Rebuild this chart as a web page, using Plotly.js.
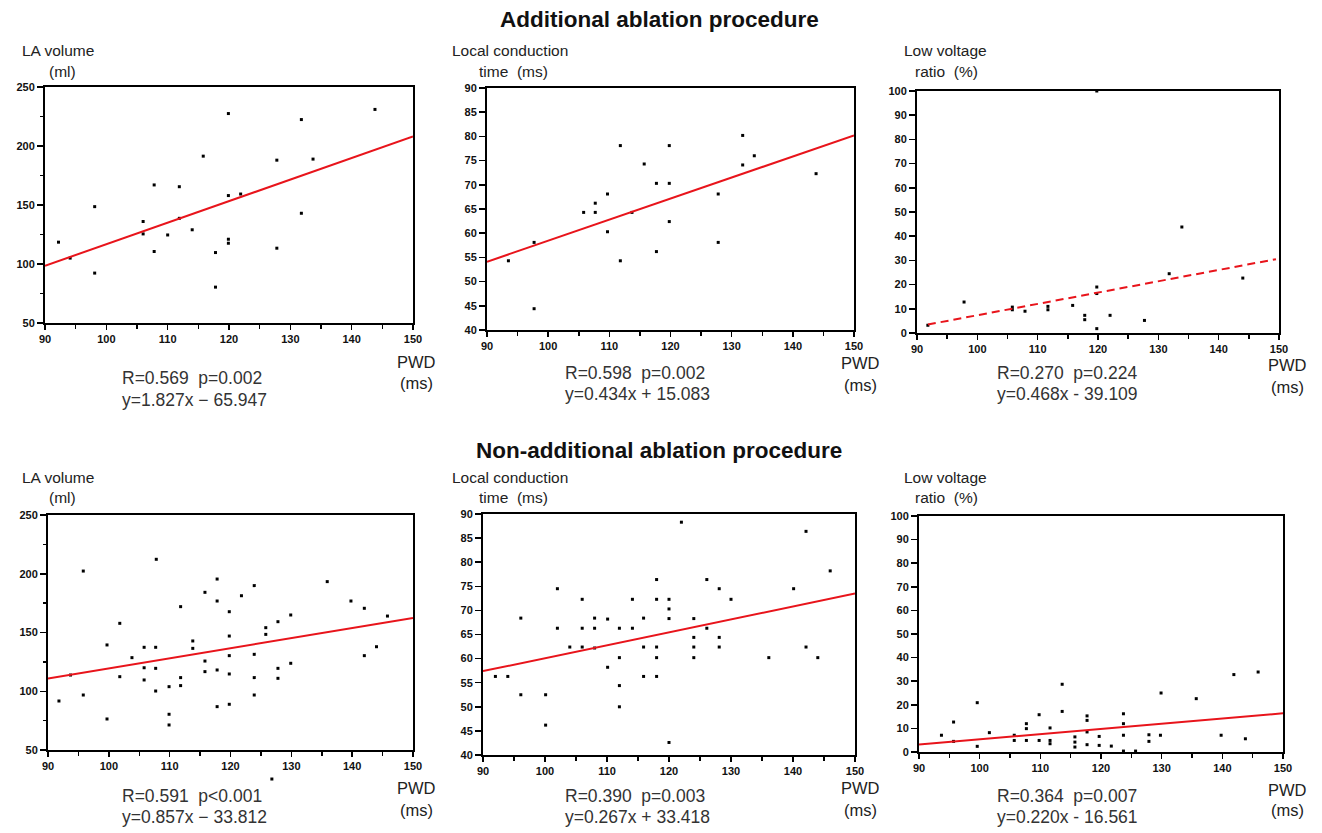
<!DOCTYPE html>
<html>
<head>
<meta charset="utf-8">
<script src="https://cdn.plot.ly/plotly-3.0.1.min.js"></script>
<style>
  html, body { margin: 0; padding: 0; background: #fff; }
  #chart { width: 1322px; height: 833px; }
</style>
</head>
<body>
<div id="chart"></div>
<script>
// ---------- DATA ----------
// Panel A1: Additional ablation, LA volume (ml) vs PWD (ms)
const a1X = [92.2, 94.1, 98.1, 98.1, 106, 106, 107.8, 107.8, 110, 111.9, 111.9, 114, 115.8, 117.8, 117.8, 119.9, 119.9, 119.9, 119.9, 121.9, 127.8, 127.8, 131.8, 131.8, 133.7, 143.8];
const a1Y = [118.5, 105, 148.6, 92.3, 136, 125.5, 167, 110.6, 124.6, 165.5, 138.7, 129, 191.4, 109.7, 80.4, 227.5, 158, 121, 117.6, 159.3, 188, 113.4, 222.4, 143, 188.9, 231];
const a1FitX = [90, 150];
const a1FitY = [98.5, 208.1];

// Panel A2: Additional ablation, Local conduction time (ms) vs PWD (ms)
const a2X = [93.5, 97.7, 97.7, 105.8, 107.7, 107.7, 109.7, 109.7, 111.8, 111.8, 113.7, 115.7, 117.7, 117.7, 119.8, 119.8, 119.8, 127.8, 127.8, 131.8, 131.8, 133.7, 143.8];
const a2Y = [54.3, 58.1, 44.4, 64.3, 66.2, 64.3, 68.1, 60.3, 78.1, 54.3, 64.3, 74.3, 70.3, 56.2, 78.1, 70.3, 62.4, 68.1, 58.1, 80.2, 74.1, 76, 72.3];
const a2FitX = [90, 150];
const a2FitY = [54.1, 80.2];

// Panel A3: Additional ablation, Low voltage ratio (%) vs PWD (ms)
const a3X = [91.8, 97.8, 105.8, 105.8, 107.9, 111.7, 111.7, 115.8, 117.8, 117.8, 119.8, 119.8, 119.8, 119.8, 122, 127.7, 131.8, 133.9, 144];
const a3Y = [3.2, 12.8, 10.7, 9.6, 9.0, 11.0, 9.6, 11.4, 7.3, 5.5, 100, 19, 16.3, 1.8, 7.3, 5.2, 24.5, 43.8, 22.7];
const a3FitX = [91.8, 149.5];
const a3FitY = [3.5, 30.5];

// Panel N1: Non-additional ablation, LA volume (ml) vs PWD (ms)
const n1X = [91.8, 93.7, 95.8, 95.8, 99.7, 99.7, 101.8, 101.8, 103.8, 105.8, 105.8, 105.8, 107.7, 107.7, 107.7, 107.8, 109.9, 109.9, 109.9, 111.8, 111.8, 111.8, 113.8, 113.8, 115.8, 115.8, 115.8, 117.8, 117.8, 117.8, 117.8, 119.8, 119.8, 119.8, 119.8, 119.8, 121.8, 123.9, 123.9, 123.9, 123.9, 125.8, 125.8, 127.8, 127.8, 127.8, 129.9, 129.9, 135.9, 139.8, 142, 142, 144, 145.8];
const n1Y = [91.7, 113.8, 202.3, 96.8, 139.4, 76.4, 157.8, 112.4, 128.6, 137.4, 120, 109.6, 137.4, 119.5, 100.2, 212.3, 103.9, 80.4, 71.3, 172, 111.6, 104.8, 142.8, 136.5, 184.2, 125.7, 116.7, 195.5, 176.8, 118.1, 86.9, 167.7, 147, 130.3, 114.7, 88.9, 181.3, 189.9, 131.4, 111.6, 96.8, 154.1, 148.4, 159.2, 119.5, 111, 164.9, 123.8, 193.3, 176.8, 170.6, 130.3, 137.9, 164];
// one value below the axis minimum, drawn outside the frame in the original
const n1OutX = [126.8];
const n1OutY = [25.3];
const n1FitX = [90, 150];
const n1FitY = [110.9, 162.4];

// Panel N2: Non-additional ablation, Local conduction time (ms) vs PWD (ms)
const n2X = [92, 94, 96.1, 96.1, 100.1, 100.1, 102, 102, 104, 106, 106, 106, 108, 108, 108, 110.1, 110.1, 112, 112, 112, 112, 114.1, 114.1, 115.9, 115.9, 115.9, 118, 118, 118, 118, 118, 120, 120, 120, 120, 122, 124, 124, 124, 124, 126.1, 126.1, 128.1, 128.1, 128.1, 130, 136.1, 140.1, 142.1, 142.1, 144, 146];
const n2Y = [56.3, 56.3, 68.4, 52.5, 52.5, 46.2, 74.5, 66.3, 62.4, 72.3, 66.3, 62.4, 68.4, 66.3, 62.2, 68.2, 58.2, 66.3, 60.2, 54.4, 50, 72.3, 66.3, 68.4, 62.4, 56.3, 76.4, 72.3, 62.4, 60.2, 56.3, 72.3, 70.3, 68.3, 42.6, 88.3, 68.3, 64.4, 62.4, 60.2, 76.4, 66.3, 74.5, 64.4, 62.4, 72.3, 60.2, 74.5, 86.4, 62.4, 60.2, 78.2];
const n2FitX = [90, 150];
const n2FitY = [57.4, 73.5];

// Panel N3: Non-additional ablation, Low voltage ratio (%) vs PWD (ms)
const n3X = [93.7, 95.7, 95.7, 99.6, 99.6, 101.6, 105.7, 105.7, 107.7, 107.7, 107.7, 109.8, 109.8, 111.6, 111.6, 111.6, 113.6, 113.6, 115.7, 115.7, 115.7, 117.7, 117.7, 117.7, 117.7, 119.7, 119.7, 121.7, 123.7, 123.7, 123.7, 123.7, 125.7, 127.9, 127.9, 129.8, 129.9, 135.7, 139.8, 141.9, 143.8, 145.9];
const n3Y = [7.1, 12.7, 4.5, 20.9, 2.4, 8.2, 7.1, 4.9, 12, 9.9, 4.9, 4.9, 15.8, 10.2, 4.9, 3.5, 28.7, 17.2, 6.4, 4.2, 2.1, 15.3, 13.4, 8.5, 3.1, 6.6, 2.8, 2.5, 16.2, 12, 7.1, 0.4, 0.4, 7.3, 4.5, 7.1, 25, 22.6, 7.1, 32.8, 5.6, 33.9];
const n3FitX = [90, 150];
const n3FitY = [3.2, 16.4];

// Texts
const groupTitles = ["Additional ablation procedure", "Non-additional ablation procedure"];
const yTitles = [["LA volume", "(ml)"], ["Local conduction", "time  (ms)"], ["Low voltage", "ratio  (%)"]];
const statsA = [["R=0.569  p=0.002", "y=1.827x − 65.947"], ["R=0.598  p=0.002", "y=0.434x + 15.083"], ["R=0.270  p=0.224", "y=0.468x - 39.109"]];
const statsN = [["R=0.591  p<0.001", "y=0.857x − 33.812"], ["R=0.390  p=0.003", "y=0.267x + 33.418"], ["R=0.364  p=0.007", "y=0.220x - 16.561"]];

// ---------- LAYOUT ----------
const W = 1322, H = 833;
const fx = p => p / W;
const fy = p => 1 - p / H;

// plot boxes in pixels: [left, top, right, bottom]
const boxes = [
  [45, 87, 413, 323],
  [487, 88, 854, 330],
  [917, 91, 1279, 333],
  [48, 515, 413, 750],
  [483, 514, 855, 755],
  [919, 516, 1283, 752]
];
const yRanges = [[50, 250], [40, 90], [0, 100], [50, 250], [40, 90], [0, 100]];
const yDticks = [50, 5, 10, 50, 5, 10];
const yMinor = [25, null, null, 25, null, null];

const series = [
  [a1X, a1Y, a1FitX, a1FitY, 'solid'],
  [a2X, a2Y, a2FitX, a2FitY, 'solid'],
  [a3X, a3Y, a3FitX, a3FitY, 'dash'],
  [n1X, n1Y, n1FitX, n1FitY, 'solid'],
  [n2X, n2Y, n2FitX, n2FitY, 'solid'],
  [n3X, n3Y, n3FitX, n3FitY, 'solid']
];

const tickFont = { family: 'Liberation Sans, Arial, sans-serif', size: 11, color: '#111', weight: 'bold' };
const data = [];
const layout = {
  width: W, height: H,
  margin: { l: 0, r: 0, t: 0, b: 0 },
  paper_bgcolor: '#fff', plot_bgcolor: 'rgba(0,0,0,0)',
  showlegend: false,
  annotations: []
};

series.forEach((s, i) => {
  const n = i + 1;
  const xa = n === 1 ? 'x' : 'x' + n;
  const ya = n === 1 ? 'y' : 'y' + n;
  data.push({
    x: s[0], y: s[1], xaxis: xa, yaxis: ya, type: 'scatter', mode: 'markers',
    marker: { symbol: 'square', size: 3, color: '#000', line: { width: 0 } },
    cliponaxis: false, hoverinfo: 'x+y'
  });
  data.push({
    x: s[2], y: s[3], xaxis: xa, yaxis: ya, type: 'scatter', mode: 'lines',
    line: { color: '#e8141b', width: 2, dash: s[4] === 'dash' ? '8px,5px' : 'solid' },
    hoverinfo: 'skip'
  });
  const b = boxes[i];
  const xKey = n === 1 ? 'xaxis' : 'xaxis' + n;
  const yKey = n === 1 ? 'yaxis' : 'yaxis' + n;
  layout[xKey] = {
    domain: [fx(b[0]), fx(b[2])], anchor: ya, range: [90, 150], autorange: false,
    tick0: 90, dtick: 10, ticks: 'outside', ticklen: 5, tickwidth: 1.5, tickcolor: '#000',
    showline: true, linecolor: '#000', linewidth: 2, mirror: true,
    showgrid: false, zeroline: false, tickfont: tickFont,
    minor: { dtick: 5, ticks: 'outside', ticklen: 4, tickwidth: 1.5, tickcolor: '#000', showgrid: false }
  };
  const yr = yRanges[i];
  const yax = {
    domain: [fy(b[3]), fy(b[1])], anchor: xa, range: yr, autorange: false,
    tick0: yr[0], dtick: yDticks[i], ticks: 'outside', ticklen: 6, tickwidth: 1.5, tickcolor: '#000',
    showline: true, linecolor: '#000', linewidth: 2, mirror: true,
    showgrid: false, zeroline: false, tickfont: tickFont
  };
  if (yMinor[i]) {
    yax.minor = { dtick: yMinor[i], ticks: 'outside', ticklen: 3, tickwidth: 1.5, tickcolor: '#000', showgrid: false };
  }
  layout[yKey] = yax;
});

// Hidden helper y-axis for panel N1 that shares its scale but extends below the frame,
// so the out-of-range value is drawn where the original shows it.
(function () {
  const b = boxes[3];
  const yr = yRanges[3];
  const extraPx = 40;
  const unitsPerPx = (yr[1] - yr[0]) / (b[3] - b[1]);
  layout.yaxis7 = {
    domain: [fy(b[3] + extraPx), fy(b[1])], anchor: 'x4',
    range: [yr[0] - extraPx * unitsPerPx, yr[1]], autorange: false,
    visible: false, showgrid: false, zeroline: false
  };
  data.push({
    x: n1OutX, y: n1OutY, xaxis: 'x4', yaxis: 'y7', type: 'scatter', mode: 'markers',
    marker: { symbol: 'square', size: 3, color: '#000', line: { width: 0 } },
    cliponaxis: false, hoverinfo: 'x+y'
  });
})();

// text helpers
const narrow = 'Liberation Sans Narrow, Arial Narrow, Liberation Sans, Arial, sans-serif';
const regular = 'Liberation Sans, Arial, sans-serif';
function ann(text, x, y, opts) {
  layout.annotations.push(Object.assign({
    text: text, xref: 'paper', yref: 'paper', x: fx(x), y: fy(y),
    xanchor: 'left', yanchor: 'middle', showarrow: false,
    font: { family: regular, size: 17.5, color: '#333' }
  }, opts || {}));
}

// group titles
ann('<b>' + groupTitles[0] + '</b>', 659, 20, { xanchor: 'center', font: { family: narrow, size: 22.5, color: '#111' } });
ann('<b>' + groupTitles[1] + '</b>', 659, 451, { xanchor: 'center', font: { family: narrow, size: 22.5, color: '#111' } });

// y titles
const titleRows = [[50, 72], [477, 497]];
[0, 1].forEach(r => {
  const leftX = [20, 450, 902];
  const secondX = [47, 477, 913];
  for (let c = 0; c < 3; c++) {
    ann(yTitles[c][0], leftX[c], titleRows[r][0], { font: { family: narrow, size: 15.5, color: '#222' } });
    ann(yTitles[c][1], secondX[c], titleRows[r][1], { font: { family: narrow, size: 15.5, color: '#222' } });
  }
});

// PWD labels
const pwdX = [417, 860, 1287];
const pwdRowsTop = [[362, 383], [363, 385], [365, 387]];
const pwdRowsBot = [[788, 810], [788, 810], [790, 810]];
for (let c = 0; c < 3; c++) {
  ann('PWD', pwdX[c], pwdRowsTop[c][0], { xanchor: 'center', font: { family: narrow, size: 16.5, color: '#222' } });
  ann('(ms)', pwdX[c], pwdRowsTop[c][1], { xanchor: 'center', font: { family: narrow, size: 16.5, color: '#222' } });
  ann('PWD', pwdX[c], pwdRowsBot[c][0], { xanchor: 'center', font: { family: narrow, size: 16.5, color: '#222' } });
  ann('(ms)', pwdX[c], pwdRowsBot[c][1], { xanchor: 'center', font: { family: narrow, size: 16.5, color: '#222' } });
}

// stats text
const statX = [120, 563, 995];
const statRowsTop = [[378, 400], [373, 394], [373, 394]];
for (let c = 0; c < 3; c++) {
  ann(statsA[c][0], statX[c], statRowsTop[c][0]);
  ann(statsA[c][1], statX[c], statRowsTop[c][1]);
  ann(statsN[c][0], statX[c], 796);
  ann(statsN[c][1], statX[c], 817);
}

Plotly.newPlot('chart', data, layout, { displayModeBar: false, staticPlot: true });
</script>
</body>
</html>
